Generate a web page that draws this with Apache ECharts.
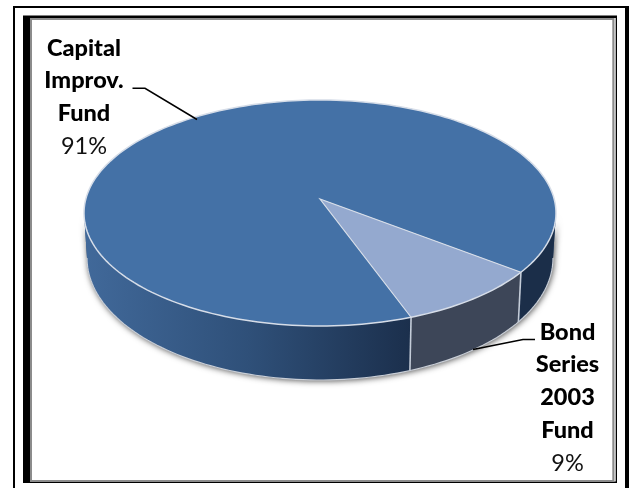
<!DOCTYPE html>
<html>
<head>
<meta charset="utf-8">
<style>html,body{margin:0;padding:0;background:#fff}#c{width:629px;height:488px}</style>
<script src="https://cdn.jsdelivr.net/npm/echarts@6/dist/echarts.min.js"></script>
</head>
<body>
<div id="c"></div>
<script>
const categories = ['Capital Improv. Fund', 'Bond Series 2003 Fund'];
const labelLines = [['Capital', 'Improv.', 'Fund'], ['Bond', 'Series', '2003', 'Fund']];
const percentLabels = ['91%', '9%'];
const values = [91, 9];

const chart = echarts.init(document.getElementById('c'), null, {renderer: 'canvas'});

const BOND_START = 37.5;              // degrees clockwise from east, on the disc
const APEX = -14 / 113;               // perspective shift of the disc centre
const TOP = {cx: 320, cy: 213, rx: 236, ry: 113};
const BOTTOM = {cx: 320, cy: 258, rx: 233, ry: 122};
const RAD = Math.PI / 180;

function project(e, deg) {
  const u = Math.cos(deg * RAD), v = Math.sin(deg * RAD);
  const d = 1 + APEX * v, k = Math.sqrt(1 - APEX * APEX);
  return [e.cx + e.rx * u * k / d, e.cy + e.ry * (v + APEX) / d];
}
function arc(e, a, b) {
  const n = Math.max(2, Math.ceil(Math.abs(b - a) / 1.5)), pts = [];
  for (let i = 0; i <= n; i++) pts.push(project(e, a + (b - a) * i / n));
  return pts;
}
function sidePoly(a, b) { return arc(TOP, a, b).concat(arc(BOTTOM, b, a)); }
const EDGE = Math.asin(-APEX) / RAD;  // where the side wall meets the silhouette

function poly(points, fill, stroke, lw, z, extra) {
  return Object.assign({type: 'polygon', shape: {points: points},
    style: {fill: fill, stroke: stroke || null, lineWidth: lw || 0}, z2: z}, extra || {});
}
function line(points, z, color, w) {
  return {type: 'polyline', shape: {points: points}, style: {stroke: color, lineWidth: w, fill: null}, z2: z};
}

function renderPie(params, api) {
  if (params.dataIndex !== 0) return null;
  const total = values[0] + values[1];
  const sweep = values[1] / total * 360;
  const s = BOND_START, e = BOND_START + sweep;
  const apex = [TOP.cx, TOP.cy + TOP.ry * APEX];
  const wallGrad = new echarts.graphic.LinearGradient(84, 0, 412, 0, [
    {offset: 0, color: '#41699a'}, {offset: 0.5, color: '#2f5079'}, {offset: 1, color: '#1b2f4c'}
  ], true);
  const kids = [];
  // soft silhouette shadow
  kids.push(poly(sidePoly(EDGE, 180 - EDGE), '#2f5079', null, 0, 1,
    {style: {fill: '#2f5079', shadowBlur: 6, shadowColor: 'rgba(0,0,0,0.7)', shadowOffsetX: 1, shadowOffsetY: 1}}));
  // walls
  kids.push(poly(sidePoly(EDGE, s), '#1b2e49', null, 0, 2));
  kids.push(poly(sidePoly(s, e), '#3d4658', null, 0, 2));
  kids.push(poly(sidePoly(e, 180 - EDGE), wallGrad, null, 0, 2));
  // bottom rim and seams
  kids.push(line(arc(BOTTOM, EDGE, 180 - EDGE), 3, '#c9ced6', 1.2));
  kids.push(line([project(TOP, s), project(BOTTOM, s)], 3, '#c4ccd8', 1.6));
  kids.push(line([project(TOP, e), project(BOTTOM, e)], 3, '#c4ccd8', 1.6));
  // top face
  kids.push(poly(arc(TOP, e, s + 360).concat([apex]), '#4471a6', null, 0, 4));
  kids.push(poly(arc(TOP, s, e).concat([apex]), '#94a9cf', null, 0, 4));
  // top outlines
  kids.push(line(arc(TOP, 0, 360), 5, '#d6dde8', 1.5));
  kids.push(line([project(TOP, s), apex, project(TOP, e)], 5, '#d6dde8', 1.2));
  return {type: 'group', children: kids};
}

const FONT = 'Lato, "Open Sans", sans-serif';
function labelTexts(lines, pct, cx, y0, step) {
  const out = lines.map((t, i) => ({type: 'text', style: {text: t, x: cx, y: y0 + i * step,
    textAlign: 'center', textVerticalAlign: 'middle', font: '900 23.5px ' + FONT, fill: '#000'}}));
  out.push({type: 'text', style: {text: pct, x: cx, y: y0 + lines.length * step,
    textAlign: 'center', textVerticalAlign: 'middle', font: '23.5px ' + FONT, fill: '#111'}});
  return out;
}
function frame(x, y, w, h, fill) { return {type: 'rect', shape: {x: x, y: y, width: w, height: h}, style: {fill: fill}, z: -5, silent: true}; }

chart.setOption({
  animation: false,
  backgroundColor: '#fff',
  series: [{
    type: 'custom',
    coordinateSystem: 'none',
    silent: true,
    data: categories.map((c, i) => ({name: c, value: values[i]})),
    renderItem: renderPie,
    clip: false
  }],
  graphic: [
    frame(13, 6, 616, 482, '#000'),
    frame(15, 8, 610, 480, '#fff'),
    frame(23, 15.5, 594, 467.5, '#000'),
    frame(30, 18, 585.7, 463.5, '#fff'),
    frame(30, 18, 584.5, 464, '#8c8c8c'),
    frame(32, 20, 580.3, 460, '#fff'),
    {type: 'polyline', shape: {points: [[132.5, 88.3], [145, 88.3], [197, 119.5]]}, style: {stroke: '#000', lineWidth: 1.5, fill: null}, z: 10},
    {type: 'polyline', shape: {points: [[473, 349.5], [523, 339.5], [535, 339.5]]}, style: {stroke: '#000', lineWidth: 1.5, fill: null}, z: 10}
  ].concat(
    labelTexts(labelLines[0], percentLabels[0], 84, 48, 32.8).map(t => Object.assign(t, {z: 10})),
    labelTexts(labelLines[1], percentLabels[1], 567.5, 332, 32.9).map(t => Object.assign(t, {z: 10}))
  )
});
</script>
</body>
</html>
